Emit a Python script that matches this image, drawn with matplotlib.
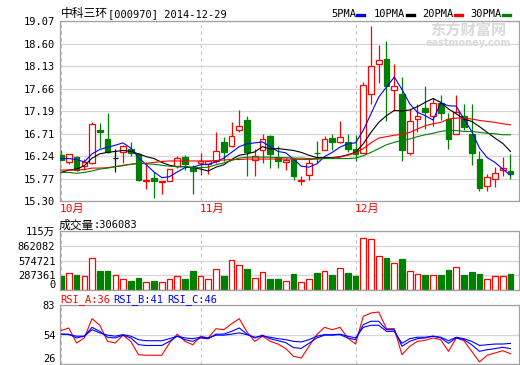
import numpy as np
import matplotlib
matplotlib.use('Agg')
import matplotlib.pyplot as plt
from matplotlib.lines import Line2D

plt.rcParams['font.family'] = ['DejaVu Sans Mono', 'Noto Sans CJK SC']

# daily prices, 2014-10-08 .. 2014-12-29
opens = [16.27, 16.11, 16.23, 16.04, 16.09, 16.79, 16.60, 16.21, 16.33, 16.39,
         16.29, 15.73, 15.78, 15.69, 15.72, 16.04, 16.23, 16.01, 16.09, 16.08,
         16.13, 16.53, 16.46, 16.79, 16.99, 16.15, 16.37, 16.67, 16.23, 16.12,
         16.18, 15.73, 15.85, 16.31, 16.37, 16.62, 16.53, 16.54, 16.40, 16.31,
         17.55, 18.18, 18.27, 17.62, 17.55, 16.31, 17.02, 17.25, 17.08, 17.36,
         17.03, 16.71, 17.09, 16.71, 16.18, 15.61, 15.76, 15.95, 15.93]
closes = [16.17, 16.29, 15.94, 16.12, 16.92, 16.74, 16.32, 16.21, 16.46, 16.31,
          15.74, 15.74, 15.71, 15.71, 15.97, 16.20, 16.08, 15.93, 16.14, 16.13,
          16.34, 16.32, 16.67, 16.88, 16.32, 16.25, 16.61, 16.29, 16.13, 16.16,
          15.83, 15.74, 16.10, 16.30, 16.60, 16.53, 16.65, 16.40, 16.28, 17.74,
          18.13, 18.26, 17.71, 17.71, 16.36, 16.97, 17.08, 17.17, 17.36, 17.15,
          16.60, 17.16, 16.86, 16.30, 15.57, 15.81, 15.89, 15.99, 15.86]
highs = [16.36, 16.29, 16.24, 16.18, 16.95, 16.93, 17.14, 16.39, 16.47, 16.54,
         16.30, 16.11, 15.90, 15.72, 15.98, 16.25, 16.27, 16.05, 16.30, 16.14,
         16.74, 16.65, 16.95, 17.21, 17.09, 16.39, 16.71, 16.68, 16.46, 16.21,
         16.21, 15.83, 16.20, 16.56, 16.67, 16.71, 16.97, 16.71, 16.69, 17.80,
         18.97, 18.58, 18.66, 18.18, 17.90, 17.24, 17.33, 17.72, 17.47, 17.53,
         17.14, 17.53, 17.34, 17.34, 16.34, 15.86, 16.02, 16.23, 16.29]
lows = [16.16, 16.07, 15.92, 15.95, 16.08, 16.42, 16.31, 15.90, 16.09, 16.25,
        15.72, 15.55, 15.36, 15.44, 15.71, 16.00, 15.95, 15.44, 15.84, 15.86,
        16.09, 16.14, 16.44, 16.74, 15.83, 15.83, 16.09, 16.00, 16.00, 15.95,
        15.74, 15.63, 15.74, 16.10, 16.36, 16.36, 16.52, 16.32, 16.14, 16.30,
        17.34, 17.77, 16.97, 17.19, 16.14, 16.27, 16.74, 16.81, 16.88, 16.99,
        16.40, 16.70, 16.78, 16.06, 15.51, 15.50, 15.60, 15.83, 15.76]

ma5 = [16.19, 16.19, 16.17, 16.12, 16.29, 16.38, 16.43, 16.47, 16.52, 16.41,
       16.21, 16.06, 15.91, 15.79, 15.81, 15.91, 16.00, 16.01, 16.06, 16.07,
       16.12, 16.20, 16.32, 16.44, 16.50, 16.52, 16.54, 16.44, 16.34, 16.31,
       16.18, 16.03, 16.01, 16.08, 16.23, 16.32, 16.43, 16.50, 16.52, 16.78,
       17.13, 17.48, 17.69, 17.90, 17.64, 17.34, 17.16, 17.09, 17.00, 17.35,
       17.30, 17.29, 17.02, 16.76, 16.41, 16.21, 16.11, 15.97, 15.84]
ma10 = [15.90, 15.95, 15.97, 16.04, 16.20, 16.29, 16.32, 16.34, 16.36, 16.34,
        16.29, 16.23, 16.19, 16.11, 16.05, 16.02, 16.02, 16.00, 15.97, 15.93,
        16.01, 16.06, 16.17, 16.26, 16.29, 16.33, 16.44, 16.39, 16.40, 16.38,
        16.36, 16.32, 16.26, 16.21, 16.21, 16.21, 16.23, 16.27, 16.32, 16.50,
        16.74, 16.95, 17.09, 17.20, 17.19, 17.21, 17.28, 17.37, 17.45, 17.37,
        17.23, 17.13, 17.02, 16.97, 16.86, 16.74, 16.62, 16.51, 16.34]
ma20 = [15.95, 15.95, 15.95, 15.96, 15.99, 15.99, 16.00, 16.02, 16.05, 16.07,
        16.09, 16.09, 16.11, 16.13, 16.14, 16.14, 16.14, 16.14, 16.14, 16.14,
        16.15, 16.16, 16.17, 16.17, 16.18, 16.18, 16.18, 16.18, 16.18, 16.18,
        16.18, 16.17, 16.17, 16.18, 16.19, 16.20, 16.22, 16.26, 16.31, 16.40,
        16.52, 16.62, 16.65, 16.68, 16.70, 16.74, 16.81, 16.88, 16.92, 16.95,
        17.02, 17.04, 17.04, 17.02, 16.99, 16.97, 16.95, 16.92, 16.90]
ma30 = [15.90, 15.90, 15.88, 15.90, 15.93, 15.97, 15.99, 16.02, 16.04, 16.07,
        16.09, 16.08, 16.07, 16.05, 16.03, 16.02, 16.02, 16.00, 16.00, 16.01,
        16.06, 16.10, 16.15, 16.20, 16.22, 16.22, 16.22, 16.22, 16.21, 16.21,
        16.20, 16.20, 16.19, 16.19, 16.19, 16.19, 16.19, 16.19, 16.20, 16.25,
        16.32, 16.40, 16.48, 16.53, 16.57, 16.60, 16.65, 16.69, 16.72, 16.76,
        16.78, 16.78, 16.76, 16.76, 16.74, 16.72, 16.71, 16.69, 16.69]

volume = [274000, 331000, 293000, 274000, 619000, 376000, 376000, 293000, 217000, 178000,
          236000, 159000, 184000, 159000, 217000, 274000, 217000, 376000, 274000, 217000,
          408000, 274000, 580000, 485000, 414000, 241000, 351000, 211000, 217000, 178000,
          312000, 159000, 217000, 331000, 370000, 293000, 427000, 331000, 280000, 1021000,
          1002000, 657000, 619000, 523000, 600000, 370000, 306000, 293000, 293000, 293000,
          389000, 446000, 293000, 351000, 312000, 217000, 274000, 274000, 306083]

rsi_a = [58.4, 61.0, 46.4, 51.3, 70.0, 63.6, 48.0, 46.4, 54.0, 48.0,
         35.0, 34.5, 34.5, 34.5, 46.4, 55.0, 48.0, 44.7, 53.0, 51.3,
         60.3, 59.3, 65.0, 70.0, 57.0, 48.0, 53.0, 48.0, 45.4, 41.0,
         33.5, 31.8, 43.2, 54.5, 61.6, 59.3, 61.6, 51.3, 45.4, 72.3,
         75.5, 76.5, 60.3, 60.3, 35.0, 43.2, 48.0, 49.0, 51.3, 49.6,
         38.3, 51.3, 48.6, 38.3, 28.0, 34.5, 36.7, 38.9, 36.0]
rsi_b = [55.0, 55.0, 51.3, 53.0, 61.6, 57.7, 52.0, 51.3, 54.0, 51.3,
         44.7, 44.0, 44.0, 44.0, 48.0, 53.0, 49.6, 48.0, 51.3, 50.5,
         55.0, 55.0, 57.7, 61.0, 55.0, 51.3, 54.0, 50.5, 48.6, 46.8,
         41.9, 41.2, 46.1, 51.3, 54.0, 54.0, 54.5, 51.3, 49.6, 64.2,
         67.5, 67.5, 59.3, 59.3, 43.2, 48.0, 50.6, 51.3, 53.0, 51.3,
         46.1, 51.3, 49.6, 44.7, 38.3, 39.9, 40.9, 42.2, 41.0]
rsi_c = [55.0, 54.5, 53.0, 53.0, 59.3, 56.2, 54.0, 53.0, 54.5, 53.0,
         49.6, 48.6, 48.6, 48.6, 50.6, 53.0, 51.3, 50.6, 52.0, 51.3,
         54.0, 54.0, 55.0, 56.2, 54.5, 52.0, 53.0, 52.0, 50.6, 49.6,
         48.0, 47.4, 49.6, 53.0, 54.5, 54.5, 55.0, 53.0, 51.3, 61.6,
         63.6, 63.6, 57.7, 57.7, 46.1, 50.6, 52.0, 52.0, 53.0, 52.0,
         48.6, 52.0, 50.6, 48.0, 44.0, 44.7, 45.4, 45.4, 46.0]

month_idx = [0, 18, 38]
month_labels = ['10月', '11月', '12月']
price_ticks = [15.30, 15.77, 16.24, 16.71, 17.19, 17.66, 18.13, 18.60, 19.07]
vol_ticks = [0, 287361, 574721, 862082, 1149444]
vol_labels = ['0', '287361', '574721', '862082', '115万']
rsi_ticks = [26, 54, 83]

RED = '#ff0000'
GREEN = '#008000'
BLUE = '#0000ff'
FRAME = '#a0a0a0'
GRID = '#d6d6d6'
FS = 7.5

W, H = 520, 365
fig = plt.figure(figsize=(W / 100, H / 100), dpi=100)


def box(l, t, r, b):
    return [l / W, 1 - b / H, (r - l) / W, (b - t) / H]


def fy(py):
    return 1 - py / H


ax = fig.add_axes(box(59.5, 21.3, 519, 201))
axv = fig.add_axes(box(59.5, 231.3, 519, 290))
axr = fig.add_axes(box(59.5, 305.3, 519, 364))

x = np.arange(len(closes))
o = np.array(opens)
c = np.array(closes)
edge = np.where(c > o, RED, np.where(c < o, GREEN, 'black'))
face = np.where(c > o, 'white', np.where(c < o, GREEN, 'black'))
vedge = np.where(c >= o, RED, GREEN)
vface = np.where(c >= o, 'white', GREEN)

for a in (ax, axv, axr):
    a.set_xlim(-0.2, 59.1)
    a.set_xticks([])
    for s in a.spines.values():
        s.set_color(FRAME)
        s.set_linewidth(0.9)
    a.tick_params(axis='y', length=0, labelsize=FS, pad=3)
    a.yaxis.grid(True, color=GRID, lw=0.9)
    a.set_axisbelow(True)
    for m in month_idx:
        a.axvline(m, color='#c4c4c4', lw=0.8, ls=(0, (3, 3)), zorder=0.5)

# candles
ax.vlines(x, lows, highs, colors=edge, lw=0.9, zorder=2)
ax.bar(x, np.abs(c - o), bottom=np.minimum(o, c), width=0.72,
       facecolor=face, edgecolor=edge, lw=0.9, zorder=3)
ax.plot(x, ma5, color=BLUE, lw=0.8, zorder=4)
ax.plot(x, ma10, color='black', lw=0.8, zorder=4)
ax.plot(x, ma20, color=RED, lw=0.8, zorder=4)
ax.plot(x, ma30, color=GREEN, lw=0.8, zorder=4)
ax.set_ylim(15.30, 19.07)
ax.set_yticks(price_ticks)
ax.set_yticklabels(['%.2f' % t for t in price_ticks])

for m, lab in zip(month_idx, month_labels):
    ax.text(m - 0.15, -0.015, lab, transform=ax.get_xaxis_transform(),
            ha='left', va='top', color=RED, fontsize=8)

# volume
axv.bar(x, volume, width=0.72, facecolor=vface, edgecolor=vedge, lw=0.9)
axv.set_ylim(0, 1149444)
axv.set_yticks(vol_ticks)
axv.set_yticklabels(vol_labels)
axv.get_yticklabels()[0].set_va('bottom')

# rsi
axr.plot(x, rsi_a, color=RED, lw=0.8)
axr.plot(x, rsi_b, color=BLUE, lw=0.8)
axr.plot(x, rsi_c, color=BLUE, lw=0.8)
axr.set_ylim(26, 83)
axr.set_yticks(rsi_ticks)
axr.get_yticklabels()[0].set_va('bottom')

# header texts
fig.text(61 / W, fy(14), '中科三环', va='center', fontsize=8.5, family='Noto Sans CJK SC')
fig.text(108 / W, fy(14), '[000970] 2014-12-29', va='center', fontsize=FS)
legend = [('5PMA', BLUE, 331, 357), ('10PMA', 'black', 374, 407),
          ('20PMA', RED, 422, 455), ('30PMA', GREEN, 470, 503)]
for name, col, tx, lx in legend:
    fig.text(tx / W, fy(14), name, va='center', fontsize=FS)
    fig.add_artist(Line2D([lx / W, (lx + 7) / W], [fy(15), fy(15)], color=col, lw=2.4))

# watermark
fig.text(468 / W, fy(30), '东方财富网', ha='center', va='center', fontsize=11,
         color='#d9d9d9', fontweight='bold', family='Noto Sans CJK SC')
fig.text(468 / W, fy(43), 'eastmoney.com', ha='center', va='center', fontsize=7,
         color='#d9d9d9', fontweight='bold', family='DejaVu Sans')

fig.text(59 / W, fy(225), '成交量', va='center', fontsize=8.5, family='Noto Sans CJK SC')
fig.text(94 / W, fy(225), ':%d' % volume[-1], va='center', fontsize=FS)
fig.text(60 / W, fy(300), 'RSI_A:%d' % round(rsi_a[-1]), va='center', fontsize=FS, color=RED)
fig.text(113 / W, fy(300), 'RSI_B:%d' % round(rsi_b[-1]), va='center', fontsize=FS, color=BLUE)
fig.text(167 / W, fy(300), 'RSI_C:%d' % round(rsi_c[-1]), va='center', fontsize=FS, color=BLUE)

fig.savefig('out.png', dpi=100)
